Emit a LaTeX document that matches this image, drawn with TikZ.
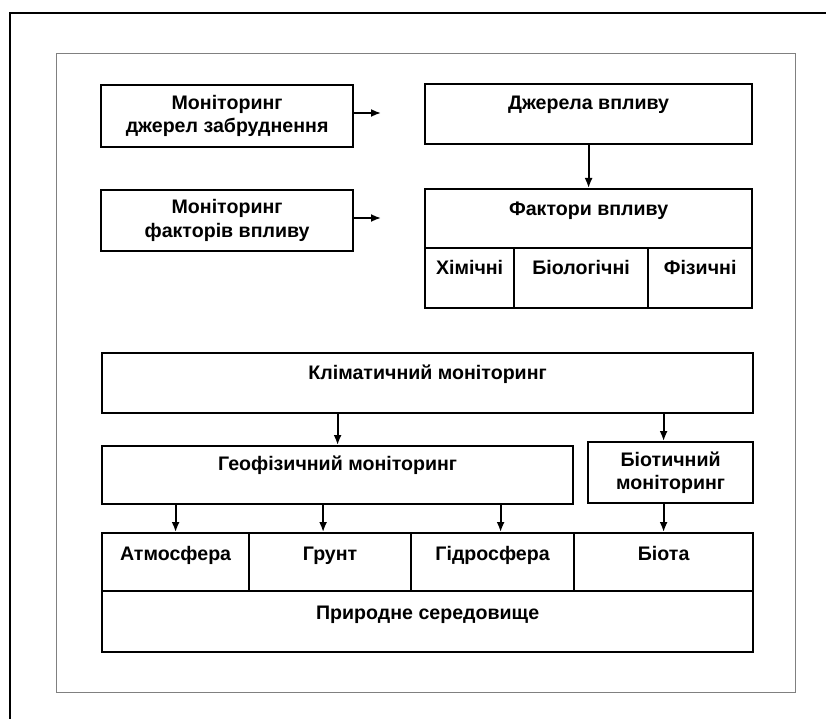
\documentclass[tikz,border=0pt]{standalone}
\usepackage{fontspec}
\setmainfont{Liberation Sans}
\usetikzlibrary{positioning,arrows.meta}

\begin{document}
\begin{tikzpicture}[x=1pt,y=-1pt,
    box/.style={draw=black, line width=2.2pt, rectangle, inner sep=0pt,
                anchor=north west, align=center,
                font=\bfseries\fontsize{19.6}{23.5}\selectfont},
    lbl/.style={anchor=base, inner sep=0pt,
                font=\bfseries\fontsize{19.6}{23.5}\selectfont},
    link/.style={-{Latex[length=10pt,width=8pt]}, line width=1.8pt}]
    \useasboundingbox (0,0) rectangle (826,719);
    % frames
    \draw[line width=1.3pt] (10,719) -- (10,13) -- (826,13);
    \draw[gray, line width=0.8pt] (56,53) rectangle (795,692);
    % monitoring boxes
    \node[box, minimum width=252, minimum height=62] (mondz) at (100,84)
        {Моніторинг\\джерел забруднення};
    \node[box, minimum width=252, minimum height=61] (monfk) at (100,189)
        {Моніторинг\\факторів впливу};
    % sources
    \node[box, minimum width=327, minimum height=60] (dzh) at (424,83) {};
    \node[lbl] (dzht) at ([yshift=-27pt]dzh.north) {Джерела впливу};
    % factors
    \node[box, minimum width=327, minimum height=59] (fakt) at (424,188) {};
    \node[lbl] (faktt) at ([yshift=-27pt]fakt.north) {Фактори впливу};
    \node[box, minimum width=89, minimum height=60] (khim) at (424,247) {};
    \node[box, minimum width=134, minimum height=60] (biol) at (513,247) {};
    \node[box, minimum width=104, minimum height=60] (fiz) at (647,247) {};
    \node[lbl] (khimt) at ([yshift=-27pt]khim.north) {Хімічні};
    \node[lbl] (biolt) at ([yshift=-27pt]biol.north) {Біологічні};
    \node[lbl] (fizt) at ([yshift=-27pt]fiz.north) {Фізичні};
    % climate, geo, bio
    \node[box, minimum width=651, minimum height=60] (klim) at (101,352) {};
    \node[lbl] (klimt) at ([yshift=-27pt]klim.north) {Кліматичний моніторинг};
    \node[box, minimum width=471, minimum height=58] (geo) at (101,445) {};
    \node[lbl] (geot) at ([yshift=-25pt]geo.north) {Геофізичний моніторинг};
    \node[box, minimum width=165, minimum height=61] (biot) at (587,441)
        {Біотичний\\моніторинг};
    % environment
    \node[box, minimum width=147, minimum height=58] (atm) at (101,532) {};
    \node[box, minimum width=162, minimum height=58] (grunt) at (248,532) {};
    \node[box, minimum width=163, minimum height=58] (gidro) at (410,532) {};
    \node[box, minimum width=179, minimum height=58] (biota) at (573,532) {};
    \node[lbl] (atmt) at ([yshift=-28pt]atm.north) {Атмосфера};
    \node[lbl] (gruntt) at ([yshift=-28pt]grunt.north) {Грунт};
    \node[lbl] (gidrot) at ([yshift=-28pt]gidro.north) {Гідросфера};
    \node[lbl] (biotat) at ([yshift=-28pt]biota.north) {Біота};
    \node[box, minimum width=651, minimum height=61] (sered) at (101,590) {};
    \node[lbl] (seredt) at ([yshift=-29pt]sered.north) {Природне середовище};
    % arrows
    \coordinate (dzhin) at (381,113);
    \coordinate (faktin) at (381,218);
    \draw[link] (mondz.east |- dzhin) -- (dzhin);
    \draw[link] (monfk.east |- faktin) -- (faktin);
    \draw[link] (dzh) -- (fakt);
    \draw[link] (klim.south -| geo) -- (geo);
    \draw[link] (klim.south -| biota) -- (biot.north -| biota);
    \draw[link] (geo.south -| atm) -- (atm);
    \draw[link] ([xshift=-7pt]geo.south -| grunt) -- ([xshift=-7pt]grunt.north);
    \draw[link] ([xshift=8pt]geo.south -| gidro) -- ([xshift=8pt]gidro.north);
    \draw[link] (biot.south -| biota) -- (biota);
\end{tikzpicture}
\end{document}
